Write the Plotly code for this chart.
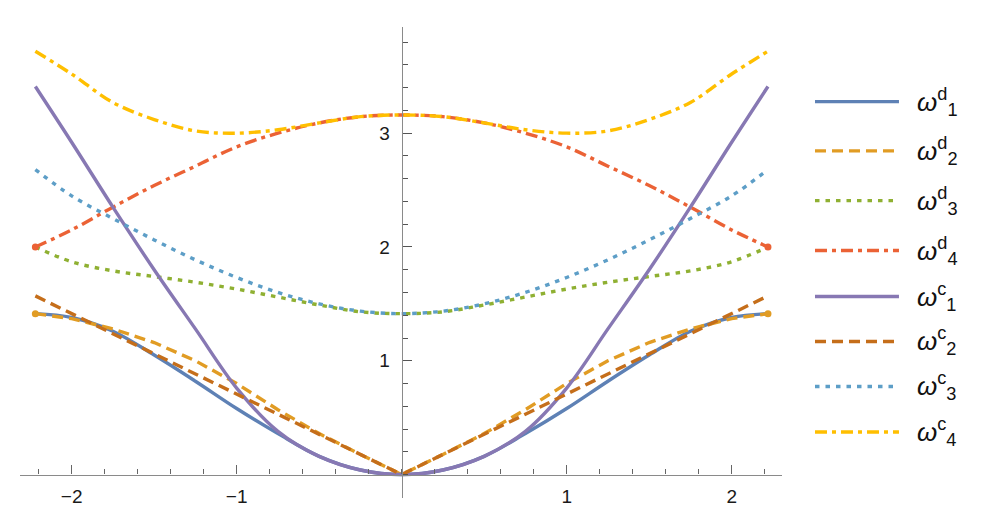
import plotly.graph_objects as go

# wave number grid (symmetric about 0)
k = [-2.22, -2.0, -1.75, -1.5, -1.25, -1.0, -0.75, -0.5, -0.25, 0.0,
     0.25, 0.5, 0.75, 1.0, 1.25, 1.5, 1.75, 2.0, 2.22]

# discrete branches
w_d1 = [1.414, 1.38, 1.26, 1.05, 0.82, 0.58, 0.36, 0.16, 0.04, 0.0,
        0.04, 0.16, 0.36, 0.58, 0.82, 1.05, 1.26, 1.38, 1.414]
w_d2 = [1.414, 1.37, 1.28, 1.16, 1.00, 0.80, 0.57, 0.36, 0.177, 0.0,
        0.177, 0.36, 0.57, 0.80, 1.00, 1.16, 1.28, 1.37, 1.414]
w_d3 = [2.0, 1.87, 1.79, 1.74, 1.69, 1.63, 1.56, 1.49, 1.43, 1.414,
        1.43, 1.49, 1.56, 1.63, 1.69, 1.74, 1.79, 1.87, 2.0]
w_d4 = [2.0, 2.15, 2.35, 2.54, 2.71, 2.88, 3.0, 3.09, 3.145, 3.16,
        3.145, 3.09, 3.0, 2.88, 2.71, 2.54, 2.35, 2.15, 2.0]

# continuum branches
w_c1 = [3.41, 2.92, 2.35, 1.80, 1.28, 0.76, 0.38, 0.16, 0.04, 0.0,
        0.04, 0.16, 0.38, 0.76, 1.28, 1.80, 2.35, 2.92, 3.41]
w_c2 = [1.57, 1.414, 1.237, 1.06, 0.884, 0.707, 0.53, 0.354, 0.177, 0.0,
        0.177, 0.354, 0.53, 0.707, 0.884, 1.06, 1.237, 1.414, 1.57]
w_c3 = [2.68, 2.449, 2.25, 2.062, 1.887, 1.732, 1.601, 1.5, 1.436, 1.414,
        1.436, 1.5, 1.601, 1.732, 1.887, 2.062, 2.25, 2.449, 2.68]
w_c4 = [3.72, 3.52, 3.27, 3.12, 3.02, 3.0, 3.03, 3.09, 3.145, 3.16,
        3.145, 3.09, 3.03, 3.0, 3.02, 3.12, 3.27, 3.52, 3.72]

names = ["<i>ω</i><sup>d</sup><sub>1</sub>", "<i>ω</i><sup>d</sup><sub>2</sub>",
         "<i>ω</i><sup>d</sup><sub>3</sub>", "<i>ω</i><sup>d</sup><sub>4</sub>",
         "<i>ω</i><sup>c</sup><sub>1</sub>", "<i>ω</i><sup>c</sup><sub>2</sub>",
         "<i>ω</i><sup>c</sup><sub>3</sub>", "<i>ω</i><sup>c</sup><sub>4</sub>"]
series = [w_d1, w_d2, w_d3, w_d4, w_c1, w_c2, w_c3, w_c4]

colors = ["#5E81B5", "#E19C24", "#8FB032", "#EB6235",
          "#8778B3", "#C56E1A", "#5D9EC7", "#FFBF00"]
DASH = "11px,6px"
DOT = "4.5px,6px"
DASHDOT = "12px,5px,4px,5px"
dashes = ["solid", DASH, DOT, DASHDOT, "solid", DASH, DOT, DASHDOT]
shapes_ = ["spline", "linear", "spline", "spline",
           "spline", "linear", "spline", "spline"]

fig = go.Figure()
for ys, c, d, sh in zip(series, colors, dashes, shapes_):
    fig.add_trace(go.Scatter(
        x=k, y=ys, mode="lines",
        line=dict(color=c, width=3.4, dash=d, shape=sh),
        showlegend=False, hoverinfo="skip"
    ))

# end dots on the dashed discrete branches
for ys, c in [(w_d2, colors[1]), (w_d4, colors[3])]:
    fig.add_trace(go.Scatter(
        x=[k[0], k[-1]], y=[ys[0], ys[-1]], mode="markers",
        marker=dict(color=c, size=7), showlegend=False, hoverinfo="skip"
    ))

# hand-drawn legend on the right (paper coords of the plot area)
leg_y = [0.8415, 0.7369, 0.6314, 0.5254, 0.4278, 0.3323, 0.2368, 0.1400]
for name, c, d, ly in zip(names, colors, dashes, leg_y):
    fig.add_shape(type="line", xref="paper", yref="paper",
                  x0=1.0433, x1=1.1535, y0=ly, y1=ly,
                  line=dict(color=c, width=3.4, dash=d))
    fig.add_annotation(xref="paper", yref="paper", x=1.1745, y=ly,
                       xanchor="left", yanchor="middle", showarrow=False,
                       text=name, font=dict(family="Liberation Sans", size=26, color="#111"))

fig.update_layout(
    width=989, height=524,
    margin=dict(l=12, r=215, t=19, b=34),
    plot_bgcolor="white", paper_bgcolor="white",
    showlegend=False,
    font=dict(family="Liberation Sans", size=19, color="#1a1a1a"),
)

fig.update_xaxes(
    range=[-2.313, 2.305], anchor="free", position=0.0498,
    showline=True, linecolor="#8a8a8a", linewidth=1.2,
    showgrid=False, zeroline=False,
    ticks="inside", ticklen=9, tickcolor="#666", tickwidth=1,
    tickvals=[-2, -1, 1, 2], ticktext=["−2", "−1", "1", "2"],
    ticklabelstandoff=5,
    minor=dict(ticks="inside", ticklen=5, tickcolor="#666",
               tickmode="linear", tick0=0, dtick=0.2),
)
fig.update_yaxes(
    range=[-0.206, 3.933], anchor="free", position=0.5009,
    showline=True, linecolor="#8a8a8a", linewidth=1.2,
    showgrid=False, zeroline=False,
    ticks="inside", ticklen=9, tickcolor="#555", tickwidth=1,
    tickvals=[1, 2, 3], ticktext=["1", "2", "3"],
    ticklabelstandoff=8,
    minor=dict(ticks="inside", ticklen=5, tickcolor="#555",
               tickmode="linear", tick0=0, dtick=0.2),
)

fig.write_html("out.html")
